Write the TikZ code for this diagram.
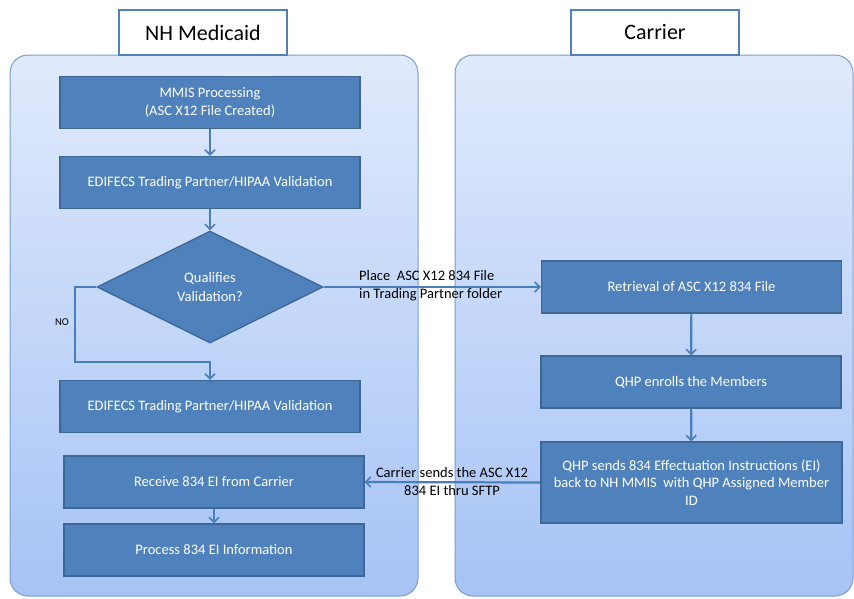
\documentclass[tikz,border=0pt]{standalone}
\usepackage{fontspec}
\setmainfont{Carlito}
\usetikzlibrary{shapes.geometric, arrows.meta}
\definecolor{kasten}{HTML}{4F81BD}
\definecolor{rand}{HTML}{3C6797}
\definecolor{pfeilblau}{HTML}{4A7EBB}
\definecolor{hellblau}{HTML}{E0EAFC}
\definecolor{mittelblau}{HTML}{A6C3F5}
\definecolor{panelrand}{HTML}{7A9CCF}

\begin{document}
\begin{tikzpicture}[x=1pt, y=-1pt,
	panel/.style={draw=panelrand, line width=1pt, rounded corners=18pt,
		top color=hellblau, bottom color=mittelblau},
	kopf/.style={draw=kasten, line width=1.5pt, fill=white, minimum width=168pt,
		minimum height=45pt, font=\fontsize{22}{26}\selectfont},
	schritt/.style={draw=rand, line width=1.3pt, fill=kasten, text=white,
		minimum width=300pt, minimum height=52pt, align=center,
		font=\fontsize{14.5}{17.5}\selectfont},
	raute/.style={diamond, draw=rand, line width=1.3pt, fill=kasten, text=white,
		minimum width=226pt, minimum height=112pt, inner sep=0pt, align=center,
		font=\fontsize{14.5}{19}\selectfont},
	pfeil/.style={draw=pfeilblau, line width=2.2pt,
		-{Straight Barb[length=5pt, width=10pt, line width=1.6pt]}},
	notiz/.style={font=\fontsize{14.5}{18}\selectfont, inner sep=0pt}]
	\useasboundingbox (0,0) rectangle (854,598);
	% die zwei bereiche
	\path[panel] (10,55) rectangle (418,596);
	\path[panel] (455,55) rectangle (853,596);
	\node[kopf] (medicaid) at (203,32.5) {NH Medicaid};
	\node[kopf] (carrier) at (655,32.5) {Carrier};
	% linke seite
	\node[schritt] (mmis) at (210,102.5) {MMIS Processing\\(ASC X12 File Created)};
	\node[schritt] (valid) at (210,182.5) {EDIFECS Trading Partner/HIPAA Validation};
	\node[raute] (frage) at (210,287) {Qualifies\\Validation?};
	\node[schritt] (valid2) at (210,406.5) {EDIFECS Trading Partner/HIPAA Validation};
	\node[schritt] (empfang) at (214,482) {Receive 834 EI from Carrier};
	\node[schritt] (verarb) at (214,550) {Process 834 EI Information};
	% rechte seite
	\node[schritt] (abruf) at (691.5,287) {Retrieval of ASC X12 834 File};
	\node[schritt] (anmeld) at (691,382) {QHP enrolls the Members};
	\node[schritt, minimum width=301pt, minimum height=81pt] (senden) at (691.5,482.5)
		{QHP sends 834 Effectuation Instructions (EI)\\back to NH MMIS~ with QHP Assigned Member\\ID};
	% die pfeile
	\draw[pfeil] (mmis) -- (valid);
	\draw[pfeil] (valid) -- (frage);
	\draw[pfeil] (frage.west) -| (75,362) -| (valid2.north);
	\draw[pfeil] (empfang) -- (verarb);
	\draw[pfeil] (frage.east) -- (abruf.west);
	\draw[pfeil] (abruf) -- (anmeld);
	\draw[pfeil] (anmeld) -- (senden);
	\draw[pfeil] (senden.west) -- (empfang.east);
	% beschriftung der pfeile
	\node[notiz, font=\fontsize{10.5}{12}\selectfont] (nein) at (62,322) {NO};
	\node[notiz, anchor=west, align=left] (ablage) at (359,286)
		{Place~ ASC X12 834 File\\in Trading Partner folder};
	\node[notiz, align=center] (sftp) at (452,482)
		{Carrier sends the ASC X12\\834 EI thru SFTP};
\end{tikzpicture}
\end{document}
